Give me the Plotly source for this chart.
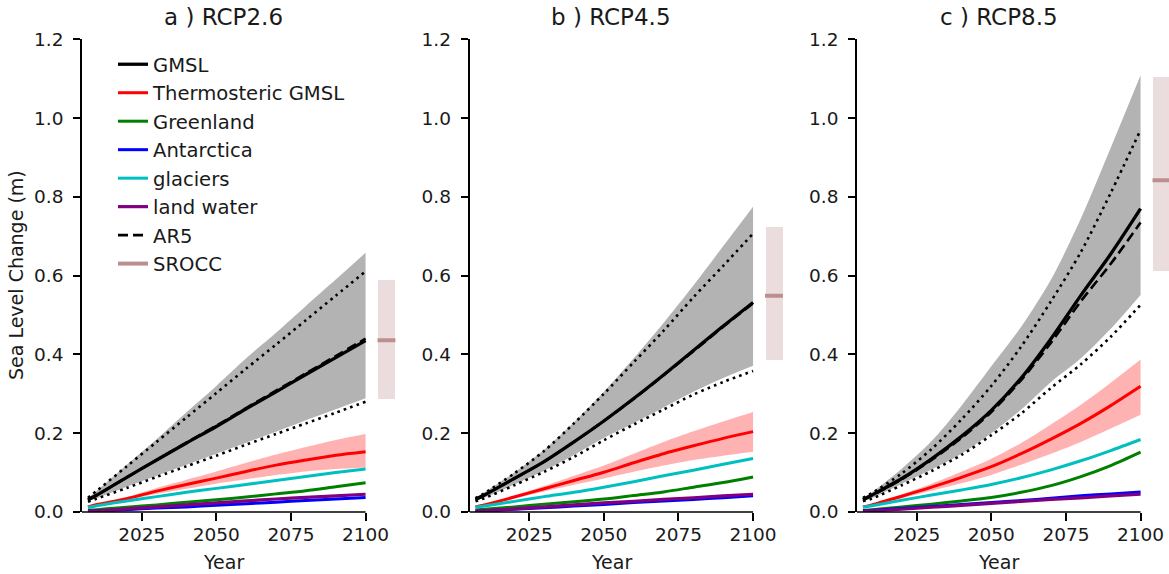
import plotly.graph_objects as go

# ---------------------------------------------------------------- data
years = [2007, 2010, 2020, 2030, 2040, 2050, 2060, 2070, 2080, 2090, 2100]
x_ticks = [2025, 2050, 2075, 2100]
y_ticks = [0.0, 0.2, 0.4, 0.6, 0.8, 1.0, 1.2]
y_tick_text = ["0.0", "0.2", "0.4", "0.6", "0.8", "1.0", "1.2"]
panel_titles = ["a ) RCP2.6", "b ) RCP4.5", "c ) RCP8.5"]

# RCP2.6
a_gmsl = [0.031, 0.043, 0.088, 0.132, 0.175, 0.217, 0.262, 0.305, 0.349, 0.392, 0.435]
a_gmsl_hi = [0.036, 0.054, 0.120, 0.185, 0.253, 0.320, 0.390, 0.455, 0.523, 0.590, 0.658]
a_gmsl_lo = [0.027, 0.035, 0.064, 0.092, 0.120, 0.148, 0.176, 0.204, 0.233, 0.261, 0.289]
a_thermo = [0.013, 0.019, 0.034, 0.053, 0.070, 0.086, 0.103, 0.119, 0.132, 0.144, 0.153]
a_thermo_hi = [0.014, 0.020, 0.038, 0.061, 0.082, 0.103, 0.125, 0.146, 0.165, 0.183, 0.198]
a_thermo_lo = [0.012, 0.017, 0.031, 0.046, 0.059, 0.072, 0.083, 0.094, 0.103, 0.109, 0.113]
a_greenland = [0.005, 0.006, 0.012, 0.018, 0.025, 0.031, 0.038, 0.046, 0.054, 0.064, 0.074]
a_antarctica = [0.002, 0.003, 0.006, 0.010, 0.013, 0.017, 0.021, 0.025, 0.029, 0.033, 0.037]
a_glaciers = [0.012, 0.016, 0.028, 0.039, 0.050, 0.060, 0.070, 0.080, 0.090, 0.100, 0.109]
a_landwater = [0.002, 0.003, 0.008, 0.013, 0.018, 0.023, 0.028, 0.033, 0.037, 0.041, 0.045]
a_ar5 = [0.031, 0.043, 0.088, 0.132, 0.176, 0.219, 0.264, 0.308, 0.352, 0.396, 0.440]
a_ar5_hi = [0.036, 0.054, 0.116, 0.178, 0.240, 0.302, 0.364, 0.425, 0.487, 0.549, 0.611]
a_ar5_lo = [0.026, 0.034, 0.061, 0.089, 0.116, 0.143, 0.171, 0.198, 0.225, 0.252, 0.280]
a_srocc = [0.286, 0.436, 0.589]  # low, median, high

# RCP4.5
b_gmsl = [0.032, 0.043, 0.085, 0.128, 0.178, 0.231, 0.288, 0.348, 0.410, 0.472, 0.532]
b_gmsl_hi = [0.036, 0.050, 0.100, 0.158, 0.228, 0.305, 0.390, 0.480, 0.575, 0.675, 0.775]
b_gmsl_lo = [0.028, 0.036, 0.070, 0.105, 0.145, 0.188, 0.225, 0.265, 0.305, 0.340, 0.371]
b_thermo = [0.013, 0.018, 0.038, 0.059, 0.080, 0.101, 0.125, 0.148, 0.168, 0.187, 0.204]
b_thermo_hi = [0.014, 0.019, 0.042, 0.066, 0.092, 0.118, 0.148, 0.178, 0.205, 0.230, 0.254]
b_thermo_lo = [0.012, 0.016, 0.034, 0.052, 0.069, 0.085, 0.102, 0.118, 0.132, 0.143, 0.153]
b_greenland = [0.005, 0.007, 0.013, 0.020, 0.026, 0.033, 0.042, 0.051, 0.063, 0.075, 0.089]
b_antarctica = [0.002, 0.003, 0.007, 0.011, 0.015, 0.019, 0.024, 0.028, 0.032, 0.036, 0.041]
b_glaciers = [0.012, 0.015, 0.027, 0.039, 0.050, 0.063, 0.077, 0.092, 0.106, 0.121, 0.136]
b_landwater = [0.002, 0.003, 0.008, 0.013, 0.018, 0.023, 0.027, 0.032, 0.036, 0.041, 0.045]
b_ar5 = [0.032, 0.043, 0.085, 0.128, 0.178, 0.231, 0.287, 0.347, 0.408, 0.470, 0.530]
b_ar5_hi = [0.035, 0.048, 0.098, 0.155, 0.225, 0.300, 0.380, 0.460, 0.545, 0.625, 0.707]
b_ar5_lo = [0.027, 0.035, 0.068, 0.102, 0.140, 0.182, 0.222, 0.260, 0.298, 0.330, 0.358]
b_srocc = [0.386, 0.549, 0.723]

# RCP8.5
c_gmsl = [0.031, 0.043, 0.085, 0.135, 0.192, 0.258, 0.340, 0.440, 0.550, 0.655, 0.770]
c_gmsl_hi = [0.036, 0.050, 0.110, 0.180, 0.270, 0.370, 0.470, 0.590, 0.745, 0.925, 1.109]
c_gmsl_lo = [0.027, 0.035, 0.072, 0.108, 0.148, 0.200, 0.260, 0.330, 0.390, 0.465, 0.551]
c_thermo = [0.013, 0.018, 0.040, 0.063, 0.088, 0.115, 0.148, 0.185, 0.225, 0.270, 0.319]
c_thermo_hi = [0.014, 0.020, 0.045, 0.072, 0.102, 0.135, 0.175, 0.222, 0.272, 0.328, 0.387]
c_thermo_lo = [0.012, 0.016, 0.035, 0.054, 0.073, 0.094, 0.120, 0.148, 0.178, 0.212, 0.247]
c_greenland = [0.004, 0.006, 0.013, 0.020, 0.028, 0.037, 0.050, 0.067, 0.090, 0.118, 0.152]
c_antarctica = [0.003, 0.004, 0.009, 0.014, 0.019, 0.024, 0.029, 0.035, 0.041, 0.046, 0.051]
c_glaciers = [0.012, 0.016, 0.030, 0.043, 0.056, 0.070, 0.087, 0.107, 0.130, 0.156, 0.184]
c_landwater = [0.002, 0.003, 0.007, 0.012, 0.017, 0.022, 0.027, 0.032, 0.036, 0.041, 0.045]
c_ar5 = [0.031, 0.042, 0.083, 0.132, 0.188, 0.254, 0.335, 0.430, 0.535, 0.630, 0.735]
c_ar5_hi = [0.036, 0.048, 0.098, 0.160, 0.235, 0.320, 0.420, 0.535, 0.660, 0.810, 0.970]
c_ar5_lo = [0.027, 0.034, 0.068, 0.104, 0.145, 0.195, 0.250, 0.315, 0.375, 0.445, 0.526]
c_srocc = [0.612, 0.842, 1.104]

srocc_x = [2104, 2110]  # horizontal extent of the SROCC likely-range box

scenarios = [
    dict(gmsl=a_gmsl, gmsl_hi=a_gmsl_hi, gmsl_lo=a_gmsl_lo, thermo=a_thermo,
         thermo_hi=a_thermo_hi, thermo_lo=a_thermo_lo, greenland=a_greenland,
         antarctica=a_antarctica, glaciers=a_glaciers, landwater=a_landwater,
         ar5=a_ar5, ar5_hi=a_ar5_hi, ar5_lo=a_ar5_lo, srocc=a_srocc),
    dict(gmsl=b_gmsl, gmsl_hi=b_gmsl_hi, gmsl_lo=b_gmsl_lo, thermo=b_thermo,
         thermo_hi=b_thermo_hi, thermo_lo=b_thermo_lo, greenland=b_greenland,
         antarctica=b_antarctica, glaciers=b_glaciers, landwater=b_landwater,
         ar5=b_ar5, ar5_hi=b_ar5_hi, ar5_lo=b_ar5_lo, srocc=b_srocc),
    dict(gmsl=c_gmsl, gmsl_hi=c_gmsl_hi, gmsl_lo=c_gmsl_lo, thermo=c_thermo,
         thermo_hi=c_thermo_hi, thermo_lo=c_thermo_lo, greenland=c_greenland,
         antarctica=c_antarctica, glaciers=c_glaciers, landwater=c_landwater,
         ar5=c_ar5, ar5_hi=c_ar5_hi, ar5_lo=c_ar5_lo, srocc=c_srocc),
]

# ---------------------------------------------------------------- layout geometry
W, H = 1169, 574
FONT = "DejaVu Sans"
TEXT = "#1a1a1a"
X0 = 2005
PX_PER_YEAR = 2.985
panel_left_px = [82, 469.5, 857]
panel_range_end = [2112, 2112, X0 + (W - 857) / PX_PER_YEAR]
y_bottom_px, y_top_px = 512, 39.3
ydom = [1 - y_bottom_px / H, 1 - y_top_px / H]

C_GMSL = "#000000"
C_THERMO = "#ff0000"
C_GREEN = "#008000"
C_ANT = "#0000ff"
C_GLAC = "#00bfbf"
C_LAND = "#800080"
C_SROCC = "#bc8f8f"

fig = go.Figure()

for i, s in enumerate(scenarios):
    xa = "x" if i == 0 else f"x{i + 1}"
    ya = "y" if i == 0 else f"y{i + 1}"
    leg = i == 0
    common = dict(xaxis=xa, yaxis=ya, hoverinfo="skip")

    def line(y, color, width, name=None, rank=None, dash=None, show=False):
        fig.add_trace(go.Scatter(
            x=years, y=y, mode="lines", name=name,
            line=dict(color=color, width=width, dash=dash, shape="spline", smoothing=0.8),
            showlegend=show, legendrank=rank, **common))

    def band(lo, hi, fillcolor):
        fig.add_trace(go.Scatter(x=years, y=lo, mode="lines",
                                 line=dict(width=0, shape="spline", smoothing=0.8),
                                 showlegend=False, **common))
        fig.add_trace(go.Scatter(x=years, y=hi, mode="lines",
                                 line=dict(width=0, shape="spline", smoothing=0.8),
                                 fill="tonexty", fillcolor=fillcolor, showlegend=False, **common))

    # likely ranges
    band(s["gmsl_lo"], s["gmsl_hi"], "rgba(128,128,128,0.6)")
    band(s["thermo_lo"], s["thermo_hi"], "rgba(255,0,0,0.3)")

    # AR5 likely range (dotted)
    line(s["ar5_hi"], "black", 2.6, dash="2.6px,4.2px")
    line(s["ar5_lo"], "black", 2.6, dash="2.6px,4.2px")

    # medians of the components
    line(s["gmsl"], C_GMSL, 3.3, "GMSL", 1, show=leg)
    line(s["thermo"], C_THERMO, 3, "Thermosteric GMSL", 2, show=leg)
    line(s["greenland"], C_GREEN, 3, "Greenland", 3, show=leg)
    line(s["antarctica"], C_ANT, 3, "Antarctica", 4, show=leg)
    line(s["glaciers"], C_GLAC, 3, "glaciers", 5, show=leg)
    line(s["landwater"], C_LAND, 3.2, "land water", 6, show=leg)
    line(s["ar5"], "black", 2.6, "AR5", 7, dash="10px,5px", show=leg)

    # SROCC likely range and median at 2100, drawn just right of the axis
    lo, med, hi = s["srocc"]
    fig.add_trace(go.Bar(x=[(srocc_x[0] + srocc_x[1]) / 2], y=[hi - lo], base=[lo],
                         width=[srocc_x[1] - srocc_x[0]],
                         marker=dict(color="rgba(188,143,143,0.3)", line=dict(width=0)),
                         showlegend=False, **common))
    fig.add_trace(go.Scatter(x=srocc_x, y=[med, med], mode="lines", name="SROCC",
                             line=dict(color=C_SROCC, width=4), showlegend=leg,
                             legendrank=8, **common))

layout = dict(
    width=W, height=H,
    margin=dict(l=0, r=0, t=0, b=0),
    paper_bgcolor="white", plot_bgcolor="white",
    font=dict(family=FONT, size=18.5, color=TEXT),
    showlegend=True,
    legend=dict(x=113 / W, y=1 - 45 / H, xanchor="left", yanchor="top",
                bgcolor="rgba(0,0,0,0)", borderwidth=0,
                font=dict(family=FONT, size=19.6, color=TEXT),
                traceorder="normal", itemwidth=30),
    bargap=0,
)

shapes = []
annotations = []
for i in range(3):
    sx = "" if i == 0 else str(i + 1)
    left = panel_left_px[i]
    rng = [X0, panel_range_end[i]]
    right = left + (rng[1] - rng[0]) * PX_PER_YEAR
    layout[f"xaxis{sx}"] = dict(
        domain=[left / W, min(right / W, 1.0)], range=rng, anchor=f"y{sx}",
        showline=False, showgrid=False, zeroline=False,
        ticks="outside", ticklen=7.5, tickwidth=1.6, tickcolor="black",
        tickvals=x_ticks, ticktext=[str(v) for v in x_ticks],
        tickfont=dict(family=FONT, size=18.5, color=TEXT),
        ticklabelstandoff=-2, automargin=False, fixedrange=True,
    )
    layout[f"yaxis{sx}"] = dict(
        domain=ydom, range=[0, 1.2], anchor=f"x{sx}",
        showline=True, linewidth=1.6, linecolor="black",
        showgrid=False, zeroline=False,
        ticks="outside", ticklen=7, tickwidth=1.6, tickcolor="black",
        tickvals=y_ticks, ticktext=y_tick_text,
        tickfont=dict(family=FONT, size=18.5, color=TEXT),
        ticklabelstandoff=6, automargin=False, fixedrange=True,
    )
    # bottom spine stops at the last projection year
    shapes.append(dict(type="line", xref=f"x{sx}", yref="paper",
                       x0=X0, x1=2100, y0=ydom[0], y1=ydom[0],
                       line=dict(color="black", width=1.6), layer="above"))
    mid = (X0 + 2100) / 2
    annotations.append(dict(text=panel_titles[i], xref=f"x{sx}", yref="paper",
                            x=mid, y=1 - 17 / H, xanchor="center", yanchor="middle",
                            showarrow=False, font=dict(family=FONT, size=23, color=TEXT)))
    annotations.append(dict(text="Year", xref=f"x{sx}", yref="paper",
                            x=mid, y=1 - 562 / H, xanchor="center", yanchor="middle",
                            showarrow=False, font=dict(family=FONT, size=19, color=TEXT)))

annotations.append(dict(text="Sea Level Change (m)", xref="paper", yref="paper",
                        x=16 / W, y=1 - 275 / H, xanchor="center", yanchor="middle",
                        textangle=-90, showarrow=False,
                        font=dict(family=FONT, size=19, color=TEXT)))

layout["shapes"] = shapes
layout["annotations"] = annotations
fig.update_layout(**layout)

fig.write_html("out.html", config=dict(displayModeBar=False))
